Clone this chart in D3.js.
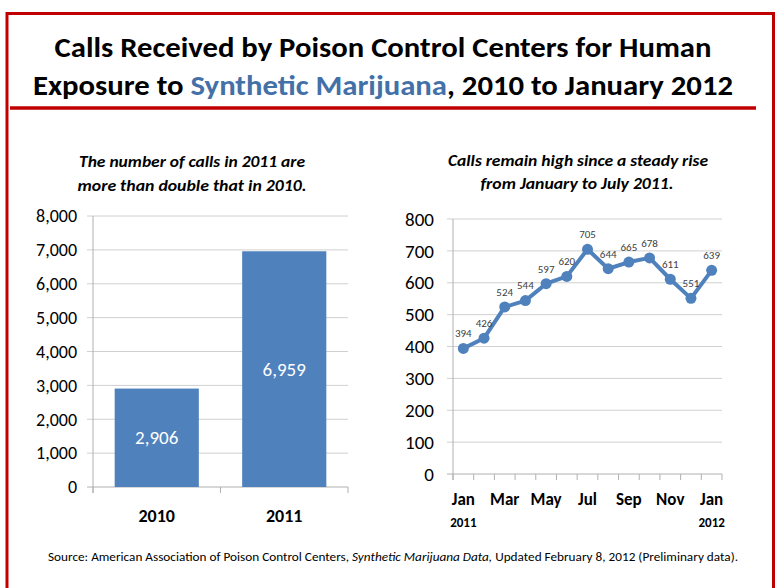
<!DOCTYPE html>
<html><head><meta charset="utf-8">
<script src="https://cdn.jsdelivr.net/npm/d3@7"></script>
<style>
html,body{margin:0;padding:0;background:#fff;}
svg{display:block;font-family:Carlito,Lato,"Open Sans",sans-serif;}
</style></head>
<body>
<svg id="c" width="778" height="588"></svg>
<script>
// ---- data ----
const years = ["2010", "2011"];
const yearCalls = [2906, 6959];
const yearTicks = [0, 1000, 2000, 3000, 4000, 5000, 6000, 7000, 8000];

const monthKeys = ["2011-01","2011-02","2011-03","2011-04","2011-05","2011-06","2011-07","2011-08","2011-09","2011-10","2011-11","2011-12","2012-01"];
const monthNames = ["Jan","Feb","Mar","Apr","May","Jun","Jul","Aug","Sep","Oct","Nov","Dec","Jan"];
const monthCalls = [394, 426, 524, 544, 597, 620, 705, 644, 665, 678, 611, 551, 639];
const monthTicks = [0, 100, 200, 300, 400, 500, 600, 700, 800];
const yearMarks = [{key:"2011-01", label:"2011"}, {key:"2012-01", label:"2012"}];

const svg = d3.select("#c");
const red = "#C00000", blue = "#4F81BD", grid = "#d0d0d0", axisC = "#b0b0b0";

// ---- frame ----
svg.append("path").attr("d","M7,600 L7,13.5 L773.5,13.5 L773.5,600")
  .attr("fill","none").attr("stroke",red).attr("stroke-width",3);
svg.append("line").attr("x1",10).attr("x2",756).attr("y1",108).attr("y2",108)
  .attr("stroke",red).attr("stroke-width",3.5);

// ---- title ----
svg.append("text").attr("x",383).attr("y",57).attr("text-anchor","middle")
  .attr("font-size",28).attr("font-weight","bold").attr("fill","#000")
  .attr("textLength",657).attr("lengthAdjust","spacingAndGlyphs")
  .text("Calls Received by Poison Control Centers for Human");
const t2 = svg.append("text").attr("x",383).attr("y",95).attr("text-anchor","middle")
  .attr("font-size",28).attr("font-weight","bold").attr("fill","#000")
  .attr("textLength",700).attr("lengthAdjust","spacingAndGlyphs");
t2.append("tspan").text("Exposure to ");
t2.append("tspan").attr("fill","#4470A8").text("Synthetic Marijuana");
t2.append("tspan").text(", 2010 to January 2012");

// ---- subtitles ----
function sub(x, y, w, txt) {
  svg.append("text").attr("x",x).attr("y",y).attr("text-anchor","middle")
    .attr("font-size",16).attr("font-weight","bold").attr("font-style","italic").attr("fill","#000")
    .attr("textLength",w).attr("lengthAdjust","spacingAndGlyphs").text(txt);
}
sub(192, 167, 226, "The number of calls in 2011 are");
sub(192, 191, 229, "more than double that in 2010.");
sub(578, 166, 260, "Calls remain high since a steady rise");
sub(577, 189, 193, "from January to July 2011.");

// ---- left chart ----
const L = {x0:93, x1:348, y0:487, y1:216};
const xL = d3.scaleBand().domain(years).range([L.x0, L.x1]).paddingInner(0.34).paddingOuter(0.17);
const yL = d3.scaleLinear().domain([0, 8000]).range([L.y0, L.y1]);
const gL = svg.append("g");

gL.selectAll("line.grid").data(yearTicks).join("line")
  .attr("x1",L.x0-6).attr("x2",L.x1).attr("y1",d=>yL(d)).attr("y2",d=>yL(d))
  .attr("stroke",d=>d===0?axisC:grid).attr("stroke-width",1);
gL.append("line").attr("x1",L.x0).attr("x2",L.x0).attr("y1",L.y1).attr("y2",L.y0+6)
  .attr("stroke",axisC);
gL.selectAll("line.bt").data([L.x0, (L.x0+L.x1)/2, L.x1]).join("line")
  .attr("x1",d=>d).attr("x2",d=>d).attr("y1",L.y0).attr("y2",L.y0+6).attr("stroke",axisC);
gL.selectAll("text.yt").data(yearTicks).join("text")
  .attr("x",77).attr("y",d=>yL(d)).attr("dy","0.35em").attr("text-anchor","end")
  .attr("font-size",18).attr("fill","#000").text(d3.format(","));

gL.selectAll("rect").data(years).join("rect")
  .attr("x",d=>xL(d)).attr("width",xL.bandwidth())
  .attr("y",(d,i)=>yL(yearCalls[i])).attr("height",(d,i)=>L.y0-yL(yearCalls[i]))
  .attr("fill",blue);
gL.selectAll("text.bl").data(years).join("text")
  .attr("x",d=>xL(d)+xL.bandwidth()/2).attr("y",(d,i)=>(yL(yearCalls[i])+L.y0)/2)
  .attr("dy","0.35em").attr("text-anchor","middle").attr("font-size",19).attr("fill","#fff")
  .text((d,i)=>d3.format(",")(yearCalls[i]));
gL.selectAll("text.xl").data(years).join("text")
  .attr("x",d=>xL(d)+xL.bandwidth()/2).attr("y",522).attr("text-anchor","middle")
  .attr("font-size",18).attr("font-weight","bold").attr("fill","#000").text(d=>d);

// ---- right chart ----
const R = {x0:453, x1:722, y0:474, y1:219};
const xR = d3.scaleBand().domain(monthKeys).range([R.x0, R.x1]);
const yR = d3.scaleLinear().domain([0, 800]).range([R.y0, R.y1]);
const gR = svg.append("g");
gR.selectAll("line.grid").data(monthTicks).join("line")
  .attr("x1",R.x0-6).attr("x2",R.x1).attr("y1",d=>yR(d)).attr("y2",d=>yR(d))
  .attr("stroke",d=>d===0?axisC:grid);
gR.append("line").attr("x1",R.x0).attr("x2",R.x0).attr("y1",R.y1).attr("y2",R.y0+6).attr("stroke",axisC);
gR.selectAll("line.bt").data(monthKeys.map(k=>xR(k)).concat([R.x1])).join("line")
  .attr("x1",d=>d).attr("x2",d=>d).attr("y1",R.y0).attr("y2",R.y0+6).attr("stroke",axisC);
gR.selectAll("text.yt").data(monthTicks).join("text")
  .attr("x",434).attr("y",d=>yR(d)).attr("dy","0.35em").attr("text-anchor","end")
  .attr("font-size",19).attr("fill","#000").text(d=>d);

const cx = k => xR(k)+xR.bandwidth()/2;
gR.append("path").datum(monthCalls)
  .attr("d", d3.line().x((d,i)=>cx(monthKeys[i])).y(d=>yR(d)))
  .attr("fill","none").attr("stroke",blue).attr("stroke-width",4).attr("stroke-linejoin","round");
gR.selectAll("circle").data(monthCalls).join("circle")
  .attr("cx",(d,i)=>cx(monthKeys[i])).attr("cy",d=>yR(d)).attr("r",5.5).attr("fill",blue);
gR.selectAll("text.dl").data(monthCalls).join("text")
  .attr("x",(d,i)=>cx(monthKeys[i])).attr("y",d=>yR(d)-15).attr("dy","0.35em")
  .attr("text-anchor","middle").attr("font-size",11).attr("fill","#404040").text(d=>d);
gR.selectAll("text.xl").data(monthKeys.filter((k,i)=>i%2===0)).join("text")
  .attr("x",d=>cx(d)).attr("y",505).attr("text-anchor","middle")
  .attr("font-size",17).attr("font-weight","bold").attr("fill","#000")
  .text(d=>monthNames[monthKeys.indexOf(d)]);
gR.selectAll("text.yr").data(yearMarks).join("text")
  .attr("x",d=>cx(d.key)).attr("y",527).attr("text-anchor","middle")
  .attr("font-size",13).attr("font-weight","bold").attr("fill","#000").text(d=>d.label);

// ---- source ----
const src = svg.append("text").attr("x",393).attr("y",561).attr("text-anchor","middle")
  .attr("font-size",11.5).attr("fill","#000").attr("textLength",690).attr("lengthAdjust","spacingAndGlyphs");
src.append("tspan").text("Source:  American Association of Poison Control Centers, ");
src.append("tspan").attr("font-style","italic").text("Synthetic Marijuana Data,");
src.append("tspan").text(" Updated February 8, 2012 (Preliminary data).");
</script>
</body></html>
